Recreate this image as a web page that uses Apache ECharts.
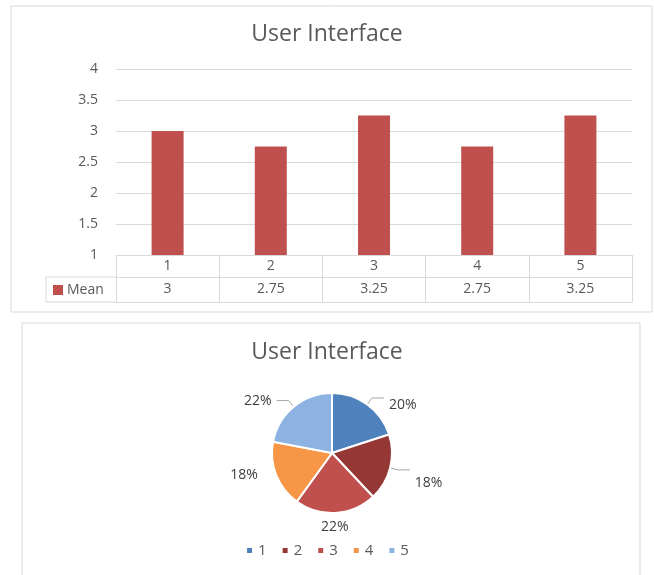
<!DOCTYPE html>
<html><head><meta charset="utf-8">
<script src="https://cdn.jsdelivr.net/npm/echarts@6/dist/echarts.min.js"></script>
<style>html,body{margin:0;padding:0;background:#fff}#c{width:654px;height:575px}</style>
</head><body><div id="c"></div>
<script>
const categories = ['1','2','3','4','5'];
const meanValues = [3, 2.75, 3.25, 2.75, 3.25];
const yTicks = [1, 1.5, 2, 2.5, 3, 3.5, 4];
const pieNames = ['1','2','3','4','5'];
const pieValues = [20, 18, 22, 18, 22];
const pieColors = ['#4f81bd','#953735','#c0504d','#f79646','#8db3e2'];
const seriesName = 'Mean';
const titleText = 'User Interface';

const FONT = 'Open Sans';
const TXT = '#595959';
const GRID = {left:116, right:22, top:69, bottom:320};
const chart = echarts.init(document.getElementById('c'));
const L = GRID.left, B = 575 - GRID.bottom;
const row1 = B + 22, row2 = B + 47;
const lineStyle = {stroke:'#d9d9d9', lineWidth:1};
const noLine = {labelLine:{show:false}};
chart.setOption({
  animation:false,
  textStyle:{fontFamily:FONT},
  title:[
    {text:titleText, left:'center', top:18, textStyle:{fontFamily:FONT, fontSize:23, fontWeight:'normal', color:TXT}},
    {text:titleText, left:'center', top:336, textStyle:{fontFamily:FONT, fontSize:23, fontWeight:'normal', color:TXT}}
  ],
  grid:{left:GRID.left, right:GRID.right, top:GRID.top, bottom:GRID.bottom},
  yAxis:{type:'value', min:yTicks[0], max:yTicks[yTicks.length-1], interval:0.5,
    axisLine:{show:false}, axisTick:{show:false},
    axisLabel:{color:TXT, fontSize:14, margin:18},
    splitLine:{lineStyle:{color:'#d9d9d9'}}},
  xAxis:[
    {type:'category', data:categories, position:'bottom',
      axisLine:{lineStyle:{color:'#d9d9d9'}},
      axisTick:{show:true, length:47, lineStyle:{color:'#d9d9d9'}},
      axisLabel:{color:TXT, fontSize:14, margin:4}},
    {type:'category', data:meanValues.map(String), position:'bottom', offset:22,
      axisLine:{lineStyle:{color:'#d9d9d9'}}, axisTick:{show:false},
      axisLabel:{color:TXT, fontSize:14, margin:5}},
    {type:'category', data:categories, position:'bottom', offset:47,
      axisLine:{lineStyle:{color:'#d9d9d9'}}, axisTick:{show:false},
      axisLabel:{show:false}}
  ],
  legend:{data:pieNames, bottom:12, left:'center', itemWidth:7, itemHeight:7, itemGap:14,
    icon:'rect', textStyle:{color:TXT, fontSize:15, fontFamily:FONT}},
  series:[
    {type:'bar', name:seriesName, data:meanValues, xAxisIndex:0, barWidth:32,
      itemStyle:{color:'#c0504d'}},
    {type:'pie', center:[332,453], radius:60, startAngle:90, clockwise:true,
      data:pieNames.map((n,i)=>{
        const d = {name:n, value:pieValues[i], itemStyle:{color:pieColors[i]}};
        if (i === 2 || i === 3) Object.assign(d, noLine);
        return d;
      }),
      itemStyle:{borderColor:'#fff', borderWidth:2},
      label:{formatter:'{c}%', color:'#404040', fontSize:14, fontFamily:FONT},
      labelLine:{length:8, length2:12, lineStyle:{color:'#a6a6a6'}},
      labelLayout:function(p){
        if (p.seriesIndex !== 1) return {};
        if (p.dataIndex === 0) return {dy:7};
        if (p.dataIndex === 1) return {dy:13};
        if (p.dataIndex === 2) return {x:p.rect.x + p.rect.width/2, y:p.rect.y + p.rect.height + 13, align:'center', verticalAlign:'middle'};
        if (p.dataIndex === 3) return {dx:6, dy:-3};
        return {};
      }}
  ],
  graphic:[
    {type:'rect', shape:{x:11, y:6, width:641, height:306}, style:{fill:'none', stroke:'#d9d9d9', lineWidth:1}},
    {type:'rect', shape:{x:22, y:323, width:618, height:270}, style:{fill:'none', stroke:'#d9d9d9', lineWidth:1}},
    {type:'line', shape:{x1:46, y1:row1, x2:L, y2:row1}, style:lineStyle},
    {type:'line', shape:{x1:46, y1:row2, x2:L, y2:row2}, style:lineStyle},
    {type:'line', shape:{x1:46, y1:row1, x2:46, y2:row2}, style:lineStyle},
    {type:'rect', shape:{x:53, y:row1+8, width:10, height:10}, style:{fill:'#c0504d'}},
    {type:'text', x:67, y:row1+13, style:{text:seriesName, fill:TXT, font:'14px "Open Sans"', verticalAlign:'middle'}}
  ]
});
</script></body></html>
